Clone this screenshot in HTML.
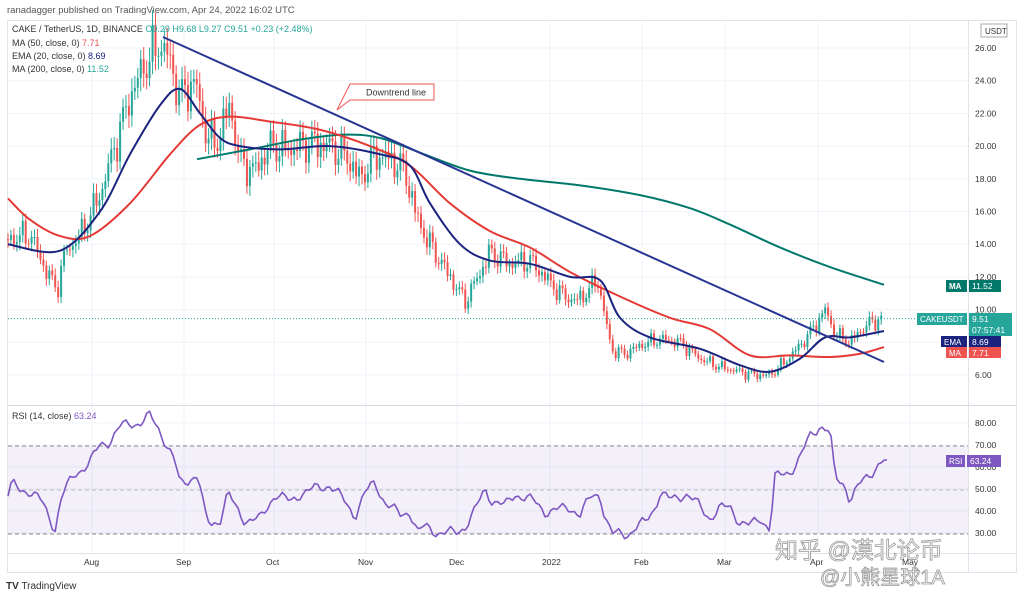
<!DOCTYPE html>
<html><head><meta charset="utf-8"><style>
body{margin:0;background:#fff;width:1024px;height:598px;overflow:hidden;font-family:"Liberation Sans","Noto Sans CJK SC",sans-serif}
svg text{font-family:"Liberation Sans","Noto Sans CJK SC",sans-serif}
</style></head><body>
<svg id="s" width="1024" height="598" xmlns="http://www.w3.org/2000/svg">
<text x="7" y="13" font-size="9.5" fill="#555">ranadagger published on TradingView.com, Apr 24, 2022 16:02 UTC</text>
<rect x="7.5" y="20.5" width="1009" height="552" fill="none" stroke="#e0e3eb"/>
<g id="grid"></g>
<rect x="8" y="446" width="960" height="88" fill="#7e57c2" fill-opacity="0.09"/>
<line x1="8" y1="446" x2="968" y2="446" stroke="#888" stroke-dasharray="4,3"/>
<line x1="8" y1="534" x2="968" y2="534" stroke="#888" stroke-dasharray="4,3"/>
<line x1="8" y1="490" x2="968" y2="490" stroke="#bbb" stroke-dasharray="4,3"/>
<line x1="8" y1="405.5" x2="1016" y2="405.5" stroke="#d6d9e0"/>
<line x1="8" y1="553.5" x2="1016" y2="553.5" stroke="#e0e3eb"/>
<line x1="968.5" y1="20" x2="968.5" y2="572" stroke="#e0e3eb"/>
<g id="c"></g>
<line x1="8" y1="318.6" x2="968" y2="318.6" stroke="#26a69a" stroke-dasharray="1,2"/>
<g id="l"></g>
<path d="M337,110 L350,84 L434,84 L434,100 L350,100 Z" fill="#fff" stroke="#ef5350"/>
<text x="366" y="95.5" font-size="9" fill="#333">Downtrend line</text>
<g font-size="9">
<text x="12" y="32" fill="#333">CAKE / TetherUS, 1D, BINANCE <tspan fill="#26a69a">O9.29 H9.68 L9.27 C9.51 +0.23 (+2.48%)</tspan></text>
<text x="12" y="46" fill="#333">MA (50, close, 0) <tspan fill="#ef5350">7.71</tspan></text>
<text x="12" y="59" fill="#333">EMA (20, close, 0) <tspan fill="#1a237e">8.69</tspan></text>
<text x="12" y="72" fill="#333">MA (200, close, 0) <tspan fill="#26a69a">11.52</tspan></text>
<text x="12" y="419" fill="#333">RSI (14, close) <tspan fill="#7e57c2">63.24</tspan></text>
</g>
<rect x="981" y="24" width="26" height="13" fill="#fff" stroke="#aaa"/>
<text x="985" y="34" font-size="8" fill="#333">USDT</text>
<g id="ax" font-size="8.5" fill="#333"></g>
<rect x="946" y="280" width="21" height="12" fill="#00796b"/><text x="949" y="289" font-size="8" fill="#fff" font-weight="bold">MA</text>
<rect x="969" y="280" width="32" height="12" fill="#00796b"/><text x="972" y="289" font-size="8.5" fill="#fff">11.52</text>
<rect x="917" y="313" width="50" height="12" fill="#26a69a"/><text x="920" y="322" font-size="8" fill="#fff">CAKEUSDT</text>
<rect x="969" y="313" width="43" height="23" fill="#26a69a"/><text x="972" y="322" font-size="8.5" fill="#fff">9.51</text><text x="972" y="333" font-size="8.5" fill="#fff">07:57:41</text>
<rect x="941" y="336" width="26" height="11" fill="#1a237e"/><text x="944" y="345" font-size="8" fill="#fff">EMA</text>
<rect x="969" y="336" width="32" height="11" fill="#1a237e"/><text x="972" y="345" font-size="8.5" fill="#fff">8.69</text>
<rect x="946" y="347" width="21" height="11" fill="#ef5350"/><text x="949" y="356" font-size="8" fill="#fff">MA</text>
<rect x="969" y="347" width="32" height="11" fill="#ef5350"/><text x="972" y="356" font-size="8.5" fill="#fff">7.71</text>
<rect x="946" y="455" width="19" height="12" fill="#7e57c2"/><text x="949" y="464" font-size="8" fill="#fff">RSI</text>
<rect x="967" y="455" width="34" height="12" fill="#7e57c2"/><text x="970" y="464" font-size="8.5" fill="#fff">63.24</text>
<text x="6" y="589" font-size="10" fill="#333"><tspan font-weight="bold">TV</tspan> TradingView</text>
<text x="775" y="558" font-size="23" fill="#fff" stroke="#999" stroke-width="0.8">知乎 @漠北论币</text>
<text x="820" y="584" font-size="20" fill="#fff" stroke="#999" stroke-width="0.8">@小熊星球1A</text>
</svg>
<script>
const NS="http://www.w3.org/2000/svg";
function el(p,t,a){const e=document.createElementNS(NS,t);for(const k in a)e.setAttribute(k,a[k]);document.getElementById(p).appendChild(e);return e;}
const py=p=>48+(26-p)*16.35, ry=r=>423+(80-r)*2.2;
[6,8,10,12,14,16,18,20,22,24,26].forEach(p=>{el("grid","line",{x1:8,x2:968,y1:py(p),y2:py(p),stroke:"#f0f3fa"});const t=el("ax","text",{x:975,y:py(p)+3});t.textContent=p.toFixed(2);});
[30,40,50,60,70,80].forEach(r=>{el("grid","line",{x1:8,x2:968,y1:ry(r),y2:ry(r),stroke:"#f0f3fa"});const t=el("ax","text",{x:975,y:ry(r)+3});t.textContent=r.toFixed(2);});
[[92,"Aug"],[184,"Sep"],[274,"Oct"],[366,"Nov"],[457,"Dec"],[550,"2022"],[642,"Feb"],[725,"Mar"],[818,"Apr"],[910,"May"]].forEach(([x,s])=>{el("grid","line",{x1:x,x2:x,y1:20,y2:553,stroke:"#f0f3fa"});const t=el("ax","text",{x:x-8,y:565});t.textContent=s;});
const K=[[8,14.3],[30,14.6],[45,12.5],[57,11.2],[65,13.5],[80,14.5],[100,17],[115,20],[130,23],[145,25],[160,26.3],[168,25.5],[180,23],[195,24],[205,21],[215,20],[230,22.5],[240,19],[255,18.5],[270,20],[290,19.8],[310,20.2],[330,20],[345,19.5],[360,18],[375,19.5],[390,19.2],[405,18.5],[415,16],[425,14.5],[440,13],[455,11.5],[465,10.5],[478,12],[490,13.5],[510,12.8],[530,13],[545,12],[560,11],[575,10.5],[590,11.2],[597,12],[605,9.5],[612,7.5],[625,7.3],[640,7.8],[660,8.2],[680,8],[700,7],[720,6.5],[740,6.2],[755,6],[770,6],[785,6.8],[800,7.8],[815,9],[825,10],[835,8.5],[850,8],[865,9],[875,9.3],[884,9.51]];
function interp(k,x){for(let i=1;i<k.length;i++)if(x<=k[i][0]){const a=k[i-1],b=k[i];return a[1]+(b[1]-a[1])*(x-a[0])/(b[0]-a[0]);}return k[k.length-1][1];}
let prev=14.3;
for(let x=8;x<=884;x+=2.95){const base=interp(K,x);const n=Math.sin(x*1.7)*0.03+Math.sin(x*0.63)*0.025+Math.sin(x*3.1)*0.015;const c=base*(1+n);
 const o=prev;const hi=Math.max(o,c)*(1+0.02+0.015*Math.abs(Math.sin(x*2.3)));const lo=Math.min(o,c)*(1-0.02-0.015*Math.abs(Math.cos(x*1.9)));
 const col=c>=o?"#26a69a":"#ef5350";
 el("c","line",{x1:x,x2:x,y1:py(hi),y2:py(lo),stroke:col,"stroke-width":1});
 el("c","rect",{x:x-1,y:Math.min(py(o),py(c)),width:2,height:Math.max(1,Math.abs(py(o)-py(c))),fill:col});
 prev=c;}
function smooth(k,col,w,f){const P=k.map(([x,p])=>[x,f?f(p):p]);let d="M"+P[0][0]+","+P[0][1];
 for(let i=0;i<P.length-1;i++){const p0=P[Math.max(0,i-1)],p1=P[i],p2=P[i+1],p3=P[Math.min(P.length-1,i+2)];
  d+=" C"+(p1[0]+(p2[0]-p0[0])/6)+","+(p1[1]+(p2[1]-p0[1])/6)+" "+(p2[0]-(p3[0]-p1[0])/6)+","+(p2[1]-(p3[1]-p1[1])/6)+" "+p2[0]+","+p2[1];}
 el("l","path",{d:d,fill:"none",stroke:col,"stroke-width":w,"stroke-linejoin":"round"});}
smooth([[197,19.2],[250,19.8],[300,20.4],[345,20.7],[380,20.5],[420,19.6],[470,18.5],[520,18],[580,17.6],[640,17],[690,16.2],[730,15.2],[780,13.8],[830,12.6],[884,11.52]],"#00796b",2,py);
smooth([[8,16.8],[30,15.5],[60,14.5],[90,14.5],[130,16.5],[170,19.5],[200,21.3],[230,21.8],[270,21.5],[320,21],[370,20],[410,18.8],[450,16.5],[490,14.8],[530,13.8],[570,12.3],[620,10.8],[670,9.5],[710,8.8],[750,7.2],[790,7.2],[830,7.1],[860,7.3],[884,7.71]],"#e53935",2,py);
smooth([[8,14],[60,13.6],[100,16],[130,19.5],[160,22.5],[180,23.5],[200,22],[220,20.5],[240,20],[280,19.8],[330,20],[380,19.5],[410,18.8],[430,16.5],[460,14],[490,13],[530,12.8],[570,12],[600,11.8],[620,9.5],[650,8.3],[700,7.6],[740,6.6],[770,6.2],[800,7],[825,8.3],[850,8.3],[884,8.69]],"#1a237e",2,py);
el("l","line",{x1:163,y1:37,x2:884,y2:362,stroke:"#283593","stroke-width":2});
const R=[[8,47],[12,52],[20,50],[30,49],[42,44],[55,32],[62,47],[75,57],[90,62],[100,70],[110,72],[120,78],[130,80],[140,80],[150,83],[158,78],[165,72],[175,62],[180,52],[190,55],[198,56],[205,38],[210,34],[220,36],[228,48],[235,42],[245,36],[260,36],[275,48],[290,44],[300,48],[315,50],[330,52],[345,44],[355,38],[365,48],[375,53],[385,44],[400,38],[410,40],[418,30],[425,33],[440,30],[455,30],[465,33],[475,40],[485,50],[492,45],[505,42],[515,48],[525,46],[535,44],[545,40],[555,40],[570,42],[580,38],[592,47],[600,48],[605,37],[612,29],[618,30],[630,30],[645,35],[655,42],[660,48],[670,45],[685,48],[700,42],[710,37],[720,41],[730,42],[740,35],[750,33],[760,37],[770,32],[775,55],[790,58],[800,64],[810,74],[820,79],[830,76],[835,55],[845,52],[850,45],[860,52],[870,57],[880,62],[887,63.24]];
const rp=[];for(let x=8;x<887;x+=2.95){const v=interp(R,x)+Math.sin(x*1.9)*1.8+Math.sin(x*3.7)*1.2;rp.push(x+","+ry(v));}
rp.push("887,"+ry(63.24));
el("l","polyline",{points:rp.join(" "),fill:"none",stroke:"#7e57c2","stroke-width":1.6,"stroke-linejoin":"round"});
</script>
</body></html>
